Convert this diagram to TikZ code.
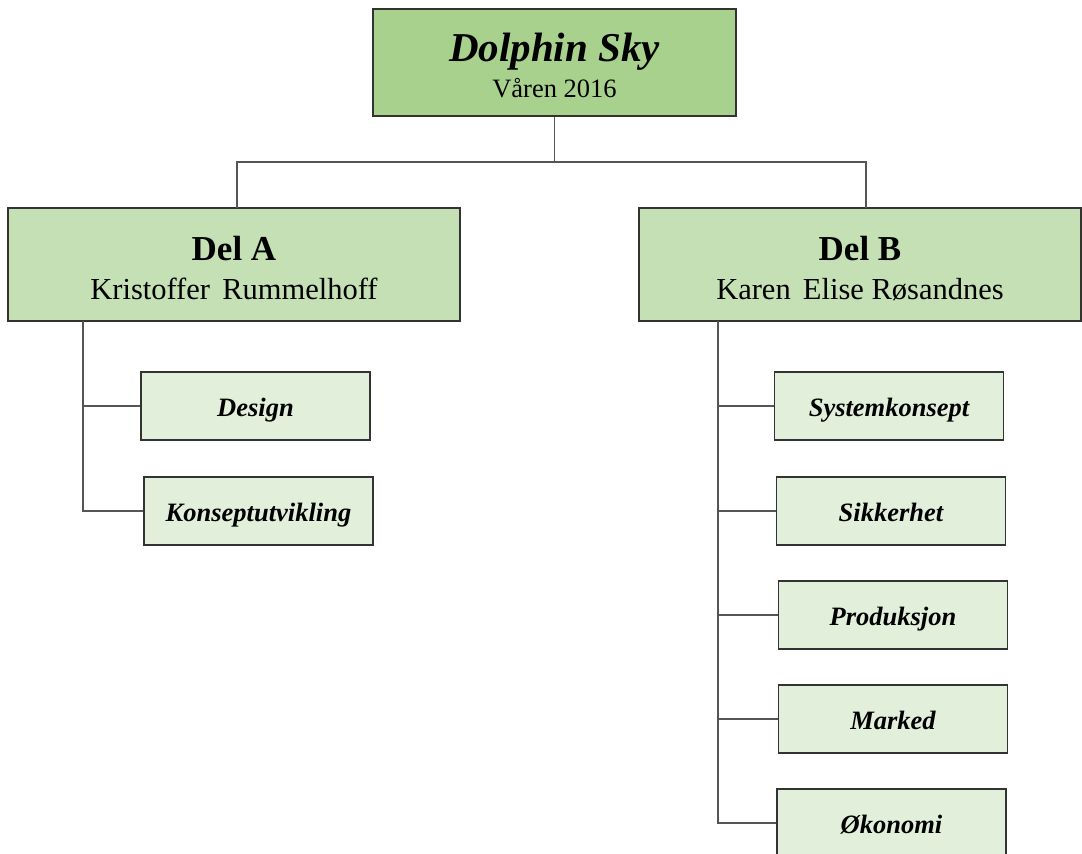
\documentclass[tikz,border=0pt]{standalone}
\usepackage{fontspec}
\setmainfont{Liberation Serif}
\definecolor{topfill}{HTML}{A9D18E}
\definecolor{delfill}{HTML}{C5E0B4}
\definecolor{subfill}{HTML}{E2EFDA}
\definecolor{boxline}{HTML}{333333}
\definecolor{conline}{HTML}{555555}
\tikzset{
  box/.style={draw=boxline, line width=1.6pt, align=center, inner sep=0pt},
  topbox/.style={box, fill=topfill, minimum width=363pt, minimum height=107pt},
  delbox/.style={box, fill=delfill, minimum height=113pt},
  toptext/.style={align=center, inner sep=0pt, font=\fontsize{26}{36}\selectfont},
  deltext/.style={align=center, inner sep=0pt, font=\fontsize{30}{39}\selectfont},
  subbox/.style={box, fill=subfill, line width=1.4pt, minimum width=229pt, minimum height=68pt, font=\fontsize{26.5}{32}\selectfont\bfseries\itshape},
  con/.style={draw=conline, line width=1.2pt},
}
\newcommand{\sublbl}[1]{\raisebox{-10pt}[0pt][0pt]{#1}}
\begin{document}
\begin{tikzpicture}[x=1pt,y=-1pt]
\useasboundingbox (0,0) rectangle (1082,854);
\begin{scope}
\clip (0,0) rectangle (1082,854);
\node[topbox] (top) at (554.5,62.5) {};
\node[toptext] (toptxt) at ([yshift=-3pt]top.center) {{\fontsize{41}{36}\selectfont\bfseries\itshape Dolphin Sky}\\{\fontsize{26.5}{36}\selectfont Våren 2016}};
\node[delbox, minimum width=452pt] (delA) at (234,264.5) {};
\node[deltext] (delAtxt) at ([yshift=-4pt]delA.center) {{\fontsize{35}{39}\selectfont\bfseries Del A}\\{\fontsize{30.5}{39}\selectfont Kristoffer\hspace{0.4em}Rummelhoff}};
\node[delbox, minimum width=442pt] (delB) at (860,264.5) {};
\node[deltext] (delBtxt) at ([yshift=-4pt]delB.center) {{\fontsize{35}{39}\selectfont\bfseries Del B}\\{\fontsize{30.5}{39}\selectfont Karen\hspace{0.4em}Elise Røsandnes}};
\node[subbox] (design) at (255.5,406) {\sublbl{Design}};
\node[subbox] (konsept) at (258.5,511) {\sublbl{Konseptutvikling}};
\node[subbox] (system) at (889,406) {\sublbl{Systemkonsept}};
\node[subbox] (sikker) at (891,511) {\sublbl{Sikkerhet}};
\node[subbox] (prod) at (893,615) {\sublbl{Produksjon}};
\node[subbox] (marked) at (893,719) {\sublbl{Marked}};
\node[subbox] (oko) at (891.5,823) {\sublbl{Økonomi}};
\coordinate (j) at (554.5,162);
\coordinate (aT) at (237,208);
\coordinate (bT) at (866,208);
\coordinate (aS) at (83,321);
\coordinate (bS) at (718,321);
\draw[con] (top.south) -- (j) -| (aT);
\draw[con] (j) -| (bT);
\draw[con] (aS) |- (design.west);
\draw[con] (aS) |- (konsept.west);
\draw[con] (bS) |- (system.west);
\draw[con] (bS) |- (sikker.west);
\draw[con] (bS) |- (prod.west);
\draw[con] (bS) |- (marked.west);
\draw[con] (bS) |- (oko.west);
\end{scope}
\end{tikzpicture}
\end{document}
